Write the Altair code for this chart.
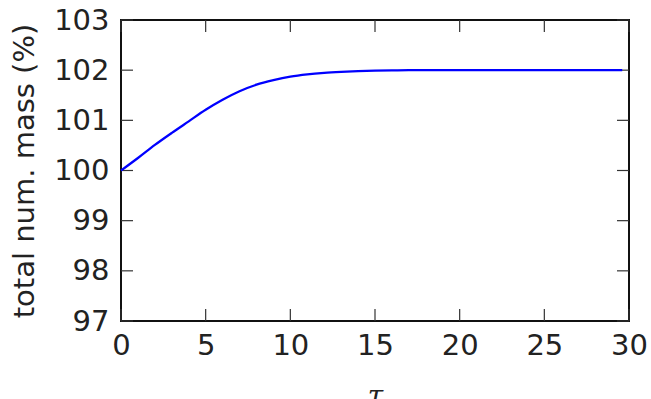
import altair as alt
import pandas as pd

tau = [0, 1, 2, 3, 4, 5, 6, 7, 8, 9, 10, 11, 12, 13, 14, 15, 16, 17, 18, 20, 22, 25, 27, 29.6]
mass = [100.0, 100.25, 100.51, 100.75, 100.98, 101.21, 101.41, 101.58, 101.71, 101.80,
        101.87, 101.915, 101.945, 101.965, 101.98, 101.99, 101.995, 102.0, 102.0, 102.0,
        102.0, 102.0, 102.0, 102.0]
x_ticks = [0, 5, 10, 15, 20, 25, 30]
y_ticks = [97, 98, 99, 100, 101, 102, 103]

W, H = 508, 301
TL = 12
FONT = "DejaVu Sans"

df = pd.DataFrame({"tau": tau, "mass": mass})
xt = pd.DataFrame({"t": x_ticks})
yt = pd.DataFrame({"v": y_ticks})

xscale = alt.Scale(domain=[0, 30], nice=False, zero=False)
yscale = alt.Scale(domain=[97, 103], nice=False, zero=False)

line = alt.Chart(df).mark_line(color="#0000ff", strokeWidth=2.3, interpolate="monotone").encode(
    x=alt.X("tau:Q", scale=xscale,
            axis=alt.Axis(values=x_ticks, title="τ", tickSize=0, domain=False, grid=False,
                          labelFlush=False, labelFont=FONT, labelFontSize=29, labelColor="#222",
                          labelPadding=10, titleFont="DejaVu Serif", titleFontStyle="italic",
                          titleFontWeight="normal", titleFontSize=28, titlePadding=22,
                          titleColor="#222")),
    y=alt.Y("mass:Q", scale=yscale,
            axis=alt.Axis(values=y_ticks, title="total num. mass (%)", tickSize=0, domain=False,
                          grid=False, labelFont=FONT, labelFontSize=29, labelColor="#222",
                          labelPadding=12, titleFont=FONT, titleFontWeight="normal",
                          titleFontSize=29, titlePadding=14, titleColor="#222")),
)

tick_style = dict(color="#333", strokeWidth=1.2)
bottom = alt.Chart(xt).mark_rule(**tick_style).encode(
    x=alt.X("t:Q", scale=xscale), y=alt.value(H), y2=alt.value(H - TL))
top = alt.Chart(xt).mark_rule(**tick_style).encode(
    x=alt.X("t:Q", scale=xscale), y=alt.value(0), y2=alt.value(TL))
left = alt.Chart(yt).mark_rule(**tick_style).encode(
    y=alt.Y("v:Q", scale=yscale), x=alt.value(0), x2=alt.value(TL))
right = alt.Chart(yt).mark_rule(**tick_style).encode(
    y=alt.Y("v:Q", scale=yscale), x=alt.value(W - TL), x2=alt.value(W))

chart = alt.layer(bottom, top, left, right, line).properties(
    width=W, height=H,
    autosize=alt.AutoSizeParams(type="none"),
    padding={"left": 121, "top": 20, "right": 22, "bottom": 78},
    background="white",
).configure_view(stroke="#111", strokeWidth=2)

chart.save("out.html", embed_options={"renderer": "svg", "actions": False})
